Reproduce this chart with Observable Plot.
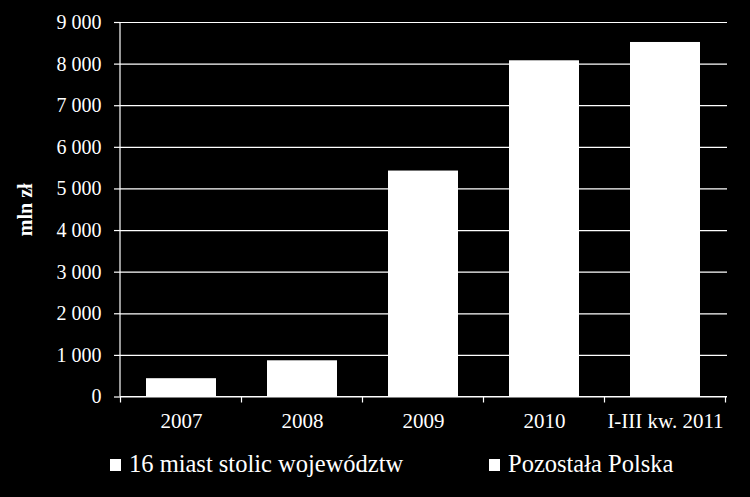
<!DOCTYPE html>
<html>
<head>
<meta charset="utf-8">
<script src="https://cdn.jsdelivr.net/npm/d3@7"></script>
<script src="https://cdn.jsdelivr.net/npm/@observablehq/plot@0.6"></script>
<style>
  html, body { margin: 0; padding: 0; background: #000; }
  #wrap { width: 750px; height: 497px; background: #000; position: relative; overflow: hidden; }
  #legend { position: absolute; left: 0; top: 440px; width: 750px; height: 57px;
            font-family: "Liberation Serif", "Times New Roman", serif; font-size: 24.5px; color: #fff; line-height: 1; }
  .item { position: absolute; top: 11.8px; display: flex; align-items: flex-start; white-space: nowrap; }
  .sw { width: 11px; height: 12px; background: #fff; margin-right: 8px; margin-top: 7.5px; flex: none; }
</style>
</head>
<body>
<div id="wrap"><div id="chart"></div><div id="legend"></div></div>
<script>
const categories = ["2007", "2008", "2009", "2010", "I-III kw. 2011"];
const totals = [440, 870, 5430, 8080, 8520];
const yTicks = [0, 1000, 2000, 3000, 4000, 5000, 6000, 7000, 8000, 9000];
const seriesNames = ["16 miast stolic województw", "Pozostała Polska"];
const yLabel = "mln zł";

const data = categories.map((c, i) => ({category: c, value: totals[i]}));
const fmt = d => d3.format(",")(d).replace(/,/g, " ");

function axisLines(index, scales) {
  const x = scales.x, y = scales.y;
  const g = d3.create("svg:g").attr("stroke", "white").attr("stroke-width", 1.2).attr("fill", "none");
  const [x0, x1] = x.range();
  const y0 = y(0), yTop = y(yTicks[yTicks.length - 1]);
  g.append("line").attr("x1", x0).attr("x2", x0).attr("y1", yTop).attr("y2", y0);
  g.append("line").attr("x1", x0).attr("x2", x1).attr("y1", y0).attr("y2", y0);
  const step = typeof x.step === "function" ? x.step() : (x1 - x0) / categories.length;
  const bw = typeof x.bandwidth === "function" ? x.bandwidth() : step * 0.58;
  const gap = (step - bw) / 2;
  const bounds = categories.map(c => x(c) - gap);
  bounds.push(x(categories[categories.length - 1]) + bw + gap);
  for (const b of bounds) g.append("line").attr("x1", b).attr("x2", b).attr("y1", y0).attr("y2", y0 + 6);
  return g.node();
}

const chart = Plot.plot({
  width: 750,
  height: 440,
  marginLeft: 120,
  marginRight: 23,
  marginTop: 22,
  marginBottom: 43.5,
  style: {background: "black", color: "white", fontFamily: "'Liberation Serif', 'Times New Roman', serif", fontSize: "20px"},
  x: {domain: categories, paddingInner: 0.42, paddingOuter: 0.21, label: null},
  y: {domain: [0, 9000], label: null},
  marks: [
    Plot.gridY(yTicks, {stroke: "white", strokeOpacity: 1, strokeWidth: 1.2}),
    Plot.barY(data, {x: "category", y: "value", fill: "white"}),
    Plot.axisY(yTicks, {tickSize: 6, tickPadding: 13, tickFormat: fmt, stroke: "white", strokeWidth: 1.2, fontSize: "20px", fill: "white"}),
    Plot.axisX({tickSize: 0, tickPadding: 16, fontSize: "21px", fill: "white"}),
    axisLines,
    Plot.text([yLabel], {frameAnchor: "left", dx: -95, rotate: -90, textAnchor: "middle", lineAnchor: "middle", fontWeight: "bold", fontSize: "20px", fill: "white"})
  ]
});
document.getElementById("chart").appendChild(chart);

const legend = document.getElementById("legend");
const lefts = [110, 489];
seriesNames.forEach((name, i) => {
  const it = document.createElement("div");
  it.className = "item";
  it.style.left = lefts[i] + "px";
  it.innerHTML = '<span class="sw"></span><span></span>';
  it.lastChild.textContent = name;
  legend.appendChild(it);
});
</script>
</body>
</html>
